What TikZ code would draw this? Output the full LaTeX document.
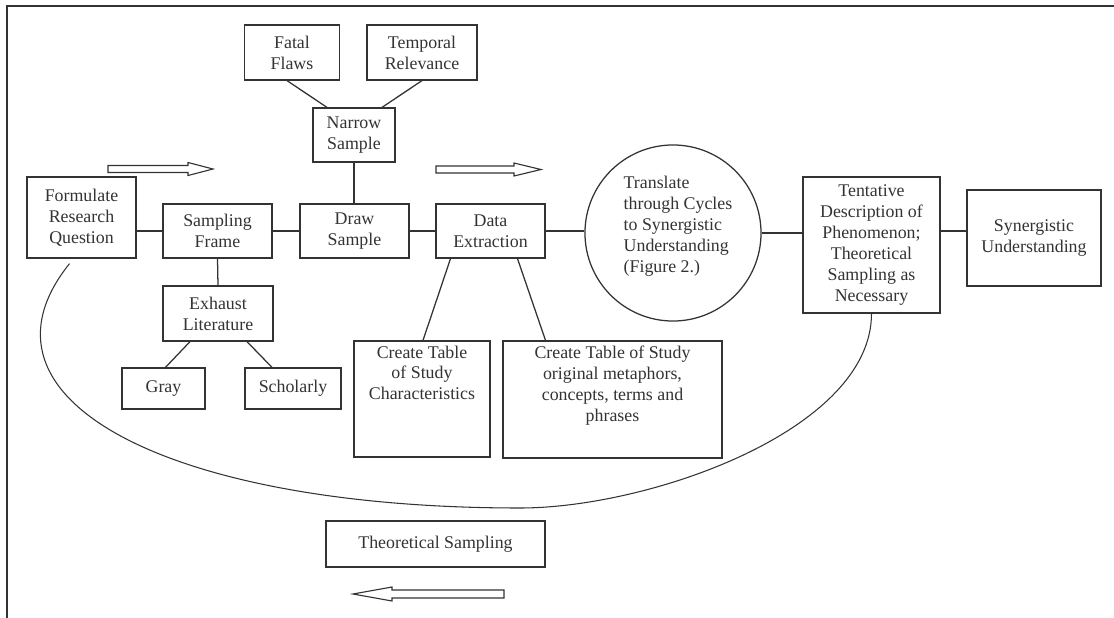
\documentclass[tikz,border=0pt]{standalone}
\usepackage{fontspec}
\setmainfont{Liberation Serif}
\usepackage{tikz}
\usetikzlibrary{calc}
\usepackage{xcolor}
\definecolor{ink}{HTML}{333333}

\begin{document}
\begin{tikzpicture}[x=0.025cm,y=-0.025cm,
    every node/.style={font=\fontsize{12.7}{14.9}\selectfont,text=ink},
    box/.style={draw=ink,line width=0.9pt,align=center},
    tag/.style={inner sep=0pt,align=center,anchor=north},
    link/.style={draw=ink,line width=0.9pt},
    hollow/.style={draw=ink,line width=0.8pt,fill=white,line join=miter}]
  \useasboundingbox (0,0) rectangle (1114,618);
  \draw[ink,line width=1.8pt] (1114,6) -- (7,6) -- (7,618);

  % top row
  \node[box,minimum width=2.375cm,minimum height=1.375cm] (ff) at (292,52.5) {Fatal\\Flaws};
  \node[box,minimum width=2.75cm,minimum height=1.375cm] (tr) at (422,52.5) {Temporal\\Relevance};
  \node[box,minimum width=2.05cm,minimum height=1.35cm] (ns) at (354,135) {Narrow\\Sample};

  % main line
  \node[box,minimum width=2.725cm,minimum height=2.025cm] (fq) at (81.5,217.5) {Formulate\\Research\\Question};
  \node[box,minimum width=2.725cm,minimum height=1.35cm] (sf) at (217.5,231) {Sampling\\Frame};
  \node[box,minimum width=2.725cm,minimum height=1.35cm] (ds) at (354.5,231) {Draw\\Sample};
  \node[box,minimum width=2.725cm,minimum height=1.35cm] (de) at (490.5,231) {Data\\Extraction};
  \node[draw=ink,line width=0.9pt,circle,minimum size=4.4cm] (tc) at (673,233) {};
  \node[align=left,inner sep=0pt] (tc-t) at ($(tc.center)+(5,-7)$)
    {Translate\\through Cycles\\to Synergistic\\Understanding\\(Figure 2.)};
  \node[box,minimum width=3.425cm,minimum height=3.4cm] (td) at (871.5,245)
    {Tentative\\Description of\\Phenomenon;\\Theoretical\\Sampling as\\Necessary};
  \node[box,minimum width=3.35cm,minimum height=2.4cm] (su) at (1034,238) {Synergistic\\Understanding};

  % literature branch
  \node[box,minimum width=2.75cm,minimum height=1.375cm] (el) at (218,313.5) {Exhaust\\Literature};
  \node[box,minimum width=2.075cm,minimum height=1.025cm] (gr) at (163.5,388.5) {Gray};
  \node[box,minimum width=2.4cm,minimum height=1.025cm] (sc) at (293,388.5) {Scholarly};

  % tables
  \node[box,minimum width=3.4cm,minimum height=2.9cm] (ct) at (422,399) {};
  \node[tag] (ct-t) at ($(ct.north)+(0,5)$) {Create Table\\of Study\\Characteristics};
  \node[box,minimum width=5.475cm,minimum height=2.925cm] (cm) at (612.5,399.5) {};
  \node[tag] (cm-t) at ($(cm.north)+(0,5)$) {Create Table of Study\\original metaphors,\\concepts, terms and\\phrases};

  \node[box,minimum width=5.475cm,minimum height=1.15cm] (ts) at (435.5,544) {Theoretical Sampling};

  % connectors
  \draw[link] ($(ff.south)+(-5,0)$) -- ($(ns.north)+(-27,0)$);
  \draw[link] (tr.south) -- ($(ns.north)+(28,0)$);
  \draw[link] (ns.south) -- (ns.south |- ds.north);
  \draw[link] (sf.west) -- (sf.west -| fq.east);
  \draw[link] (sf.east) -- (ds.west);
  \draw[link] (ds.east) -- (de.west);
  \draw[link] (de.east) -- (de.east -| tc.west);
  \draw[link] (tc.east) -- (tc.east -| td.west);
  \draw[link] ($(td.east)+(0,-14)$) -- ($(su.west)+(0,-7)$);
  \draw[link] (sf.south) -- (el.north);
  \draw[link] ($(el.south)+(-28,0)$) -- ($(gr.north)+(2,0)$);
  \draw[link] ($(el.south)+(29,0)$) -- ($(sc.north)+(-21,0)$);
  \draw[link] ($(de.south)+(-40,0)$) -- ($(ct.north)+(1,0)$);
  \draw[link] ($(de.south)+(27,0)$) -- ($(cm.north)+(-67,0)$);

  % loop back
  \draw[ink,line width=0.75pt] ($(fq.south)+(-12,5)$) .. controls (-40,400) and (170,508) .. (520,508)
    .. controls (650,508) and (871.5,430) .. (td.south);

  % direction arrows
  \draw[hollow] (108,165.5) -- (188,165.5) -- (188,162.5) -- (213,169) -- (188,175.5) -- (188,172.5) -- (108,172.5) -- cycle;
  \draw[hollow] (436,166) -- (514,166) -- (514,163) -- (541,169.5) -- (514,176) -- (514,173) -- (436,173) -- cycle;
  \draw[hollow] (504,590) -- (392,590) -- (392,587) -- (353,594) -- (392,601) -- (392,598) -- (504,598) -- cycle;
\end{tikzpicture}
\end{document}
